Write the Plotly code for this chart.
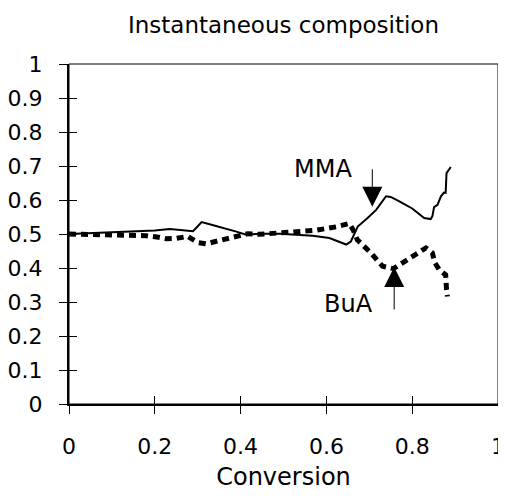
import plotly.graph_objects as go

# MMA (solid) instantaneous composition
mma_conv = [0, 0.05, 0.10, 0.15, 0.20, 0.235, 0.26, 0.289, 0.298, 0.309, 0.33, 0.36, 0.39, 0.413, 0.444,
            0.491, 0.568, 0.607, 0.646, 0.657, 0.673, 0.696, 0.716, 0.739, 0.75, 0.77, 0.80, 0.828,
            0.843, 0.847, 0.851, 0.859, 0.867, 0.874, 0.878, 0.88, 0.886, 0.89]
mma_val = [0.50, 0.502, 0.504, 0.507, 0.51, 0.515, 0.512, 0.508, 0.52, 0.535, 0.528, 0.518, 0.507, 0.498, 0.501,
           0.501, 0.495, 0.488, 0.469, 0.478, 0.522, 0.547, 0.571, 0.611, 0.609, 0.596, 0.575, 0.547,
           0.544, 0.552, 0.579, 0.586, 0.611, 0.622, 0.621, 0.679, 0.691, 0.697]

# BuA (dashed) instantaneous composition
bua_conv = [0, 0.05, 0.12, 0.18, 0.205, 0.227, 0.25, 0.277, 0.30, 0.32, 0.351, 0.382, 0.417, 0.444,
            0.514, 0.576, 0.623, 0.653, 0.662, 0.672, 0.704, 0.731, 0.756, 0.79, 0.832, 0.847, 0.853,
            0.863, 0.878, 0.88, 0.882]
bua_val = [0.50, 0.499, 0.496, 0.495, 0.491, 0.486, 0.487, 0.493, 0.475, 0.471, 0.481, 0.491, 0.501, 0.499,
           0.507, 0.511, 0.521, 0.531, 0.513, 0.483, 0.444, 0.405, 0.398, 0.427, 0.459, 0.444, 0.415,
           0.395, 0.38, 0.336, 0.316]

# annotations: label, text position, arrow tip position, tail offset (px)
labels = ["MMA", "BuA"]
label_pos = [(0.593, 0.692), (0.651, 0.295)]
arrow_tip = [(0.707, 0.580), (0.758, 0.403)]
arrow_ay = [-39, 44]

FONT = "DejaVu Sans"
# page body has an 8px margin, so the figure is drawn 8px in from the top-left
W, H = 498, 483

fig = go.Figure()
fig.add_trace(go.Scatter(x=mma_conv, y=mma_val, mode="lines", name="MMA",
                         line=dict(color="black", width=2), xaxis="x", yaxis="y"))
fig.add_trace(go.Scatter(x=bua_conv, y=bua_val, mode="lines", name="BuA",
                         line=dict(color="black", width=5, dash="7px,5px"), xaxis="x2", yaxis="y2"))

common_x = dict(range=[0, 1], dtick=0.2, tick0=0, showgrid=False, zeroline=False, automargin=False)
common_y = dict(range=[0, 1], dtick=0.1, tick0=0, showgrid=False, zeroline=False, automargin=False)

annotations = []
for lab, (tx, ty), (ax_, ay_), off in zip(labels, label_pos, arrow_tip, arrow_ay):
    annotations.append(dict(x=tx, y=ty, xref="x", yref="y", text=lab, showarrow=False,
                            font=dict(family=FONT, size=24, color="black")))
    annotations.append(dict(x=ax_, y=ay_, xref="x", yref="y", text="", showarrow=True,
                            ax=0, ay=off, arrowhead=2, arrowsize=4, arrowwidth=1,
                            arrowcolor="black", standoff=0, startstandoff=0))

fig.update_layout(
    width=W, height=H,
    margin=dict(l=61, r=8, t=56, b=87, autoexpand=False),
    paper_bgcolor="white", plot_bgcolor="white",
    showlegend=False,
    font=dict(family=FONT, color="black", size=22),
    title=dict(text="Instantaneous composition", x=0.5, xref="paper", xanchor="center",
               y=1 - 17 / H, yref="container", yanchor="middle",
               font=dict(family=FONT, size=23, color="black")),
    xaxis=dict(**common_x, showline=True, linecolor="black", linewidth=2,
               ticks="outside", ticklen=8, tickwidth=1, tickcolor="black",
               ticklabelstandoff=14, ticklabeloverflow="allow",
               title=dict(text="Conversion", standoff=10, font=dict(family=FONT, size=24))),
    yaxis=dict(**common_y, showline=True, linecolor="black", linewidth=2,
               ticks="outside", ticklen=8, tickwidth=1, tickcolor="black",
               ticklabelstandoff=12, ticklabeloverflow="allow"),
    xaxis2=dict(**common_x, overlaying="x", anchor="y2", side="bottom", showline=False,
                ticks="inside", ticklen=8, tickwidth=1, tickcolor="black", showticklabels=False),
    yaxis2=dict(**common_y, overlaying="y", anchor="x2", side="left", showline=False,
                ticks="inside", ticklen=8, tickwidth=1, tickcolor="black", showticklabels=False),
    annotations=annotations,
    shapes=[dict(type="rect", xref="paper", yref="paper", x0=0, x1=1, y0=0, y1=1,
                 line=dict(color="black", width=1), layer="above")],
)

fig.write_html("out.html")
